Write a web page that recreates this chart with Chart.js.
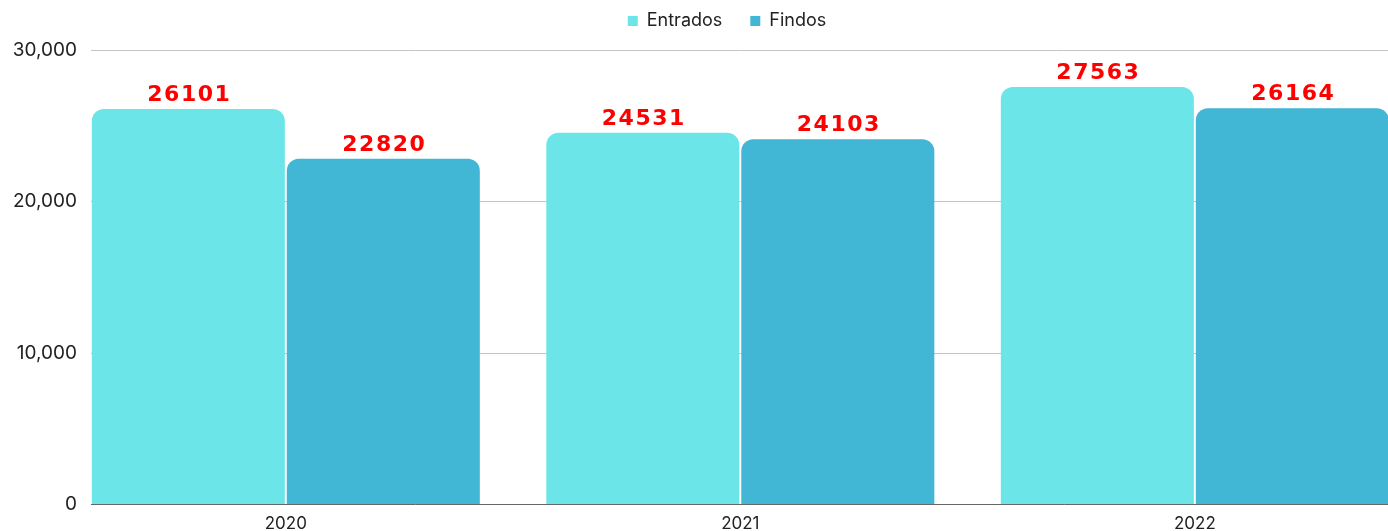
<!DOCTYPE html>
<html>
<head>
<meta charset="utf-8">
<script src="https://cdn.jsdelivr.net/npm/chart.js@4"></script>
<style>
  html, body { margin: 0; padding: 0; background: #ffffff; overflow: hidden; }
  #wrap { width: 1388px; height: 531px; overflow: hidden; }
</style>
</head>
<body>
<div id="wrap"><canvas id="c" width="1388" height="531"></canvas></div>
<script>
const years = [2020, 2021, 2022];
const entrados = [26101, 24531, 27563];
const findos = [22820, 24103, 26164];
const yTicks = [0, 10000, 20000, 30000];

const legendSpacer = {
  id: 'legendSpacer',
  beforeInit(chart) {
    const lg = chart.legend;
    if (!lg) return;
    const orig = lg.fit;
    lg.fit = function () {
      orig.call(this);
      this.height += 10;
    };
  }
};

const valueLabels = {
  id: 'valueLabels',
  afterDatasetsDraw(chart) {
    const ctx = chart.ctx;
    ctx.save();
    ctx.font = 'bold 22px "DejaVu Sans"';
    try { ctx.letterSpacing = '1.5px'; } catch (e) {}
    ctx.fillStyle = '#ff0000';
    ctx.textAlign = 'center';
    ctx.textBaseline = 'bottom';
    chart.data.datasets.forEach((ds, di) => {
      const meta = chart.getDatasetMeta(di);
      meta.data.forEach((el, i) => {
        ctx.fillText(String(ds.data[i].y), el.x + 1, el.y - 3);
      });
    });
    ctx.restore();
  }
};

new Chart(document.getElementById('c'), {
  type: 'bar',
  data: {
    datasets: [
      {
        label: 'Entrados',
        data: years.map((y, i) => ({ x: y, y: entrados[i] })),
        backgroundColor: '#6be5e8',
        borderRadius: 12,
        categoryPercentage: 0.858,
        barPercentage: 0.99
      },
      {
        label: 'Findos',
        data: years.map((y, i) => ({ x: y, y: findos[i] })),
        backgroundColor: '#42b6d5',
        borderRadius: 12,
        categoryPercentage: 0.858,
        barPercentage: 0.99
      }
    ]
  },
  options: {
    responsive: false,
    animation: false,
    layout: { padding: { top: -16, right: -66, left: 0, bottom: -12 } },
    plugins: {
      legend: {
        position: 'top',
        labels: {
          usePointStyle: true,
          pointStyle: 'rect',
          boxWidth: 10,
          boxHeight: 10,
          padding: 28,
          color: '#222222',
          font: { family: 'Inter', size: 18 }
        }
      },
      tooltip: { enabled: false }
    },
    scales: {
      x: {
        type: 'linear',
        offset: false,
        min: 2019.5714,
        max: 2022.425,
        grid: { display: false, drawTicks: false },
        border: { display: true, color: '#666666', width: 1 },
        afterBuildTicks(scale) {
          scale.ticks = years.map(v => ({ value: v }));
        },
        ticks: {
          autoSkip: false,
          padding: 9,
          color: '#222222',
          font: { family: 'Inter', size: 17 },
          callback: v => String(v)
        }
      },
      y: {
        min: 0,
        max: 30000,
        afterFit(scale) { scale.width = 91; },
        afterBuildTicks(scale) {
          scale.ticks = yTicks.map(v => ({ value: v }));
        },
        grid: { color: '#c4c4c4', lineWidth: 1, drawTicks: false },
        border: { display: false },
        ticks: {
          padding: 14,
          color: '#222222',
          font: { family: 'Inter', size: 19 },
          callback: v => v.toLocaleString('en-US')
        }
      }
    }
  },
  plugins: [legendSpacer, valueLabels]
});
</script>
</body>
</html>
